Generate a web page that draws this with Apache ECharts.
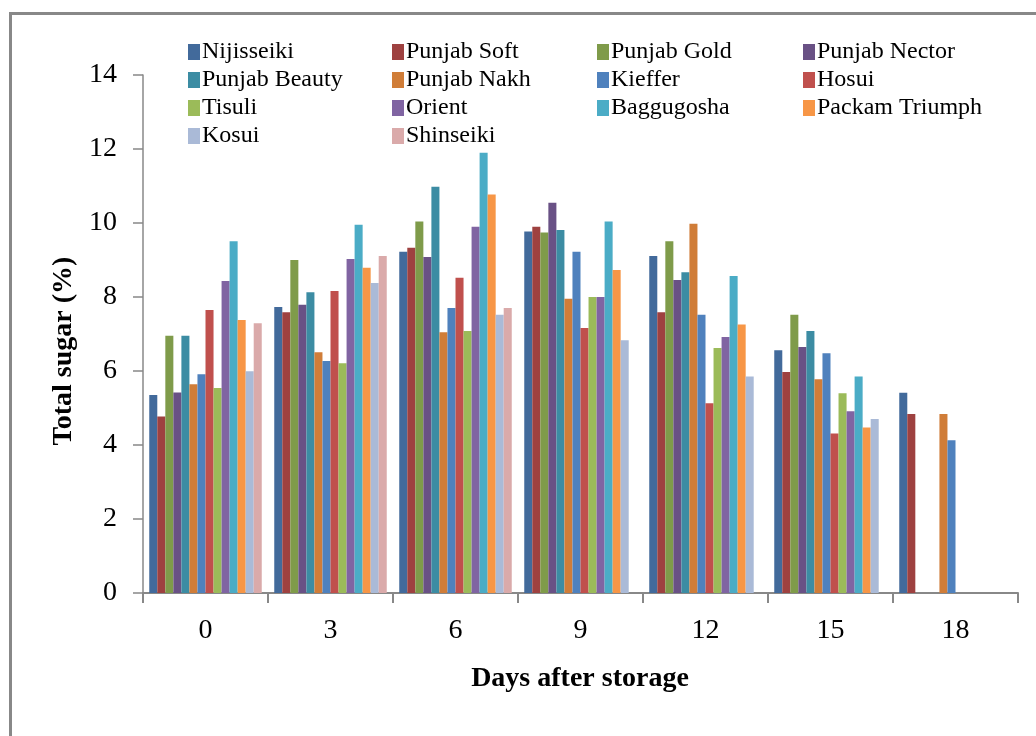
<!DOCTYPE html>
<html>
<head>
<meta charset="utf-8">
<script src="https://cdn.jsdelivr.net/npm/echarts@6/dist/echarts.min.js"></script>
<style>
html,body{margin:0;padding:0;background:#fff;}
#c{width:1036px;height:736px;}
</style>
</head>
<body>
<div id="c"></div>
<script>
const days = ['0', '3', '6', '9', '12', '15', '18'];
const yTicks = [0, 2, 4, 6, 8, 10, 12, 14];
const varieties = ['Nijisseiki', 'Punjab Soft', 'Punjab Gold', 'Punjab Nector', 'Punjab Beauty', 'Punjab Nakh', 'Kieffer', 'Hosui', 'Tisuli', 'Orient', 'Baggugosha', 'Packam Triumph', 'Kosui', 'Shinseiki'];
const nijisseiki    = [5.35, 7.73, 9.22, 9.77, 9.11, 6.56, 5.41];
const punjabSoft    = [4.77, 7.59, 9.33, 9.90, 7.59, 5.97, 4.84];
const punjabGold    = [6.95, 9.00, 10.04, 9.74, 9.51, 7.52, null];
const punjabNector  = [5.42, 7.79, 9.08, 10.55, 8.46, 6.65, null];
const punjabBeauty  = [6.95, 8.13, 10.98, 9.81, 8.67, 7.08, null];
const punjabNakh    = [5.64, 6.51, 7.05, 7.95, 9.98, 5.78, 4.84];
const kieffer       = [5.91, 6.27, 7.70, 9.22, 7.52, 6.48, 4.13];
const hosui         = [7.65, 8.16, 8.52, 7.16, 5.13, 4.31, null];
const tisuli        = [5.54, 6.21, 7.08, 8.00, 6.62, 5.40, null];
const orient        = [8.43, 9.03, 9.90, 8.00, 6.92, 4.91, null];
const baggugosha    = [9.51, 9.95, 11.90, 10.04, 8.57, 5.85, null];
const packamTriumph = [7.38, 8.79, 10.77, 8.73, 7.26, 4.47, null];
const kosui         = [5.99, 8.38, 7.52, 6.83, 5.85, 4.70, null];
const shinseiki     = [7.29, 9.11, 7.70, null, null, null, null];

const values = [nijisseiki, punjabSoft, punjabGold, punjabNector, punjabBeauty, punjabNakh, kieffer, hosui, tisuli, orient, baggugosha, packamTriumph, kosui, shinseiki];
const colors = ['#426A9B', '#9E4140', '#7F9B4A', '#695185', '#3C8CA3', '#D07D38', '#4F81BD', '#C0504D', '#9BBB59', '#8064A2', '#4BACC6', '#F79646', '#AABAD7', '#DAAAAA'];

const serif = "'Liberation Serif', 'Times New Roman', serif";

const chart = echarts.init(document.getElementById('c'), null, {renderer: 'canvas'});

const legendCols = [[], [], [], []];
varieties.forEach((v, i) => legendCols[i % 4].push(v));
const legendLeft = [188, 392, 597, 803];

const legends = legendCols.map((col, k) => ({
  data: col,
  orient: 'vertical',
  left: legendLeft[k],
  top: 38,
  itemWidth: 12,
  itemHeight: 16,
  itemGap: 0,
  icon: 'rect',
  selectedMode: false,
  padding: 0,
  textStyle: {fontFamily: serif, fontSize: 24, color: '#000', lineHeight: 28, padding: [0, 0, 0, -3]}
}));

chart.setOption({
  animation: false,
  color: colors,
  grid: {left: 143, right: 18, top: 75, bottom: 143, containLabel: false},
  legend: legends,
  graphic: [
    {type: 'rect', shape: {x: 10.5, y: 13.5, width: 1200, height: 900}, style: {fill: 'none', stroke: '#888', lineWidth: 3}, silent: true},
    {type: 'text', x: 64, y: 351, rotation: Math.PI / 2, style: {text: 'Total sugar (%)', fontFamily: serif, fontWeight: 'bold', fontSize: 28, fill: '#000', textAlign: 'center', textVerticalAlign: 'middle'}},
    {type: 'text', x: 580, y: 679, style: {text: 'Days after storage', fontFamily: serif, fontWeight: 'bold', fontSize: 28, fill: '#000', textAlign: 'center', textVerticalAlign: 'middle'}}
  ],
  xAxis: {
    type: 'category',
    data: days,
    boundaryGap: true,
    axisLine: {show: true, lineStyle: {color: '#888', width: 2}},
    axisTick: {show: true, interval: 0, length: 10, lineStyle: {color: '#888', width: 2}},
    axisLabel: {fontFamily: serif, fontSize: 28, color: '#000', margin: 24, interval: 0}
  },
  yAxis: {
    type: 'value',
    min: yTicks[0],
    max: yTicks[yTicks.length - 1],
    interval: 2,
    axisLine: {show: true, lineStyle: {color: '#888', width: 1.5}},
    axisTick: {show: true, length: 10, lineStyle: {color: '#888', width: 1.5}},
    splitLine: {show: false},
    axisLabel: {fontFamily: serif, fontSize: 28, color: '#000', margin: 26}
  },
  series: varieties.map((name, i) => ({
    name: name,
    type: 'bar',
    data: values[i],
    barGap: '0%',
    barCategoryGap: '10%',
    itemStyle: {color: colors[i]}
  }))
});
</script>
</body>
</html>
